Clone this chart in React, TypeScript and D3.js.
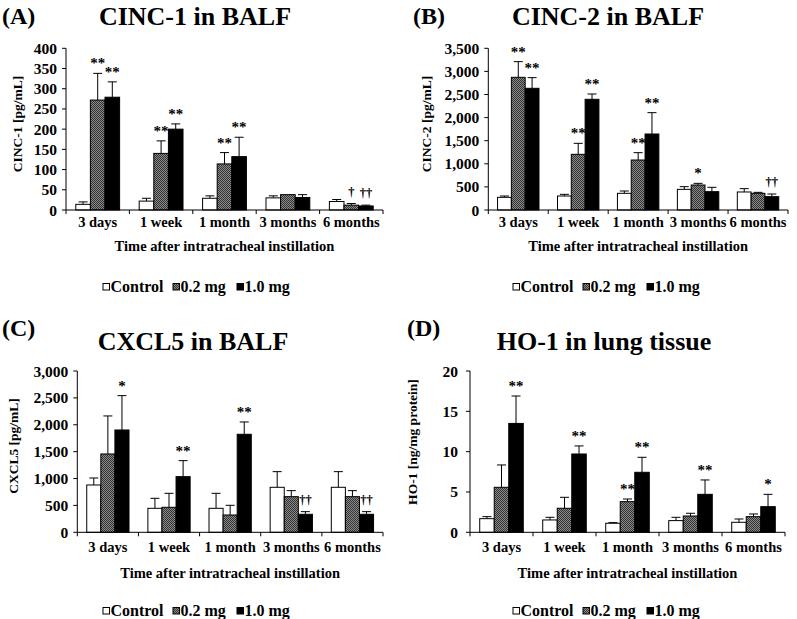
import React from "react";
import * as d3 from "d3";

const categories = ["3 days", "1 week", "1 month", "3 months", "6 months"];
const seriesNames = ["Control", "0.2 mg", "1.0 mg"];

// (A) CINC-1 in BALF [pg/mL]
const cinc1Control = [14, 22, 29, 30, 21];
const cinc1ControlSd = [6, 7, 6, 5, 5];
const cinc1Low = [272, 140, 114, 38, 12];
const cinc1LowSd = [66, 31, 28, 0, 4];
const cinc1High = [279, 200, 132, 31, 10];
const cinc1HighSd = [38, 13, 48, 7, 2];
const cinc1Marks = [
  [0, 1, "**"], [0, 2, "**"], [1, 1, "**"], [1, 2, "**"],
  [2, 1, "**"], [2, 2, "**"], [4, 1, "†"], [4, 2, "††"],
];

// (B) CINC-2 in BALF [pg/mL]
const cinc2Control = [274, 303, 361, 447, 390];
const cinc2ControlSd = [29, 36, 50, 58, 72];
const cinc2Low = [2872, 1205, 1082, 541, 361];
const cinc2LowSd = [339, 238, 159, 36, 21];
const cinc2High = [2634, 2396, 1645, 397, 289];
const cinc2HighSd = [231, 115, 462, 94, 57];
const cinc2Marks = [
  [0, 1, "**"], [0, 2, "**"], [1, 1, "**"], [1, 2, "**"],
  [2, 1, "**"], [2, 2, "**"], [3, 1, "*"], [4, 2, "††"],
];

// (C) CXCL5 in BALF [pg/mL]
const cxcl5Control = [880, 446, 446, 837, 837];
const cxcl5ControlSd = [130, 186, 279, 291, 291];
const cxcl5Low = [1457, 465, 322, 663, 663];
const cxcl5LowSd = [707, 260, 180, 112, 112];
const cxcl5High = [1903, 1035, 1823, 335, 335];
const cxcl5HighSd = [639, 298, 229, 49, 49];
const cxcl5Marks = [
  [0, 2, "*"], [1, 2, "**"], [2, 2, "**"], [3, 2, "††"], [4, 2, "††"],
];

// (D) HO-1 in lung tissue [ng/mg protein]
const ho1Control = [1.69, 1.53, 1.12, 1.45, 1.24];
const ho1ControlSd = [0.25, 0.33, 0.08, 0.41, 0.41];
const ho1Low = [5.58, 2.98, 3.8, 2.02, 1.94];
const ho1LowSd = [2.77, 1.36, 0.33, 0.34, 0.33];
const ho1High = [13.5, 9.71, 7.44, 4.71, 3.18];
const ho1HighSd = [3.4, 1.0, 1.86, 1.78, 1.53];
const ho1Marks = [
  [0, 2, "**"], [1, 2, "**"], [2, 1, "**"], [2, 2, "**"], [3, 2, "**"], [4, 2, "*"],
];

const xAxisTitle = "Time after intratracheal instillation";

const FONT = "'Liberation Serif', 'Times New Roman', serif";

type PanelCfg = {
  tag: string;
  title: string;
  yLabel: string;
  means: number[][];
  sds: number[][];
  marks: (number | string)[][];
  yMax: number;
  yStep: number;
  left: number;
  right: number;
  top: number;
  bottom: number;
  tagX: number;
  tagY: number;
  titleX: number;
  titleY: number;
  yLabelX: number;
  yLabelY: number;
  tickY: number;
  axisTitleY: number;
  legendX: number;
  legendY: number;
  yTickGap: number;
};

const panels: PanelCfg[] = [
  {
    tag: "(A)", title: "CINC-1 in BALF", yLabel: "CINC-1 [pg/mL]",
    means: [cinc1Control, cinc1Low, cinc1High], sds: [cinc1ControlSd, cinc1LowSd, cinc1HighSd],
    marks: cinc1Marks, yMax: 400, yStep: 50,
    left: 66, right: 383, top: 48.3, bottom: 210,
    tagX: 2, tagY: 23.5, titleX: 195, titleY: 25, yLabelX: 17, yLabelY: 124,
    tickY: 227, axisTitleY: 251, legendX: 103, legendY: 292, yTickGap: 9,
  },
  {
    tag: "(B)", title: "CINC-2 in BALF", yLabel: "CINC-2 [pg/mL]",
    means: [cinc2Control, cinc2Low, cinc2High], sds: [cinc2ControlSd, cinc2LowSd, cinc2HighSd],
    marks: cinc2Marks, yMax: 3500, yStep: 500,
    left: 488.3, right: 788, top: 48.3, bottom: 210,
    tagX: 413, tagY: 23.5, titleX: 608, titleY: 25, yLabelX: 426, yLabelY: 124,
    tickY: 227, axisTitleY: 251, legendX: 513, legendY: 292, yTickGap: 9,
  },
  {
    tag: "(C)", title: "CXCL5 in BALF", yLabel: "CXCL5 [pg/mL]",
    means: [cxcl5Control, cxcl5Low, cxcl5High], sds: [cxcl5ControlSd, cxcl5LowSd, cxcl5HighSd],
    marks: cxcl5Marks, yMax: 3000, yStep: 500,
    left: 77.3, right: 383, top: 371, bottom: 532.3,
    tagX: 2, tagY: 336, titleX: 193, titleY: 350, yLabelX: 13, yLabelY: 446,
    tickY: 552, axisTitleY: 578, legendX: 103, legendY: 616, yTickGap: 9,
  },
  {
    tag: "(D)", title: "HO-1 in lung tissue", yLabel: "HO-1 [ng/mg protein]",
    means: [ho1Control, ho1Low, ho1High], sds: [ho1ControlSd, ho1LowSd, ho1HighSd],
    marks: ho1Marks, yMax: 20, yStep: 5,
    left: 470, right: 785, top: 371, bottom: 532.3,
    tagX: 407, tagY: 336, titleX: 604, titleY: 350, yLabelX: 412, yLabelY: 442,
    tickY: 552, axisTitleY: 578, legendX: 513, legendY: 616, yTickGap: 12,
  },
];

const fills = ["#ffffff", "url(#hatchPat)", "#000000"];
const legendOffsets = [0, 70, 134];

function Panel({ p }: { p: PanelCfg }) {
  const x0 = d3.scaleBand<string>().domain(categories).range([p.left, p.right]).paddingInner(0).paddingOuter(0);
  const x1 = d3.scaleBand<string>().domain(seriesNames).range([0, x0.bandwidth()]).paddingInner(0).paddingOuter(0.67);
  const y = d3.scaleLinear().domain([0, p.yMax]).range([p.bottom, p.top]);
  const ticks = d3.range(0, p.yMax + p.yStep / 2, p.yStep);
  const fmt = d3.format(",");
  const bw = x1.bandwidth();
  const bounds = [...categories.map((c) => x0(c) as number), p.right];

  return (
    <g fill="#000">
      <text x={p.tagX} y={p.tagY} fontSize={24} fontWeight="bold" fontFamily={FONT}>{p.tag}</text>
      <text x={p.titleX} y={p.titleY} fontSize={26} fontWeight="bold" fontFamily={FONT} textAnchor="middle">{p.title}</text>
      <text
        transform={`translate(${p.yLabelX},${p.yLabelY}) rotate(-90)`}
        fontSize={13.5} fontWeight="bold" fontFamily={FONT} textAnchor="middle" dominantBaseline="central"
      >{p.yLabel}</text>

      {/* bars */}
      {categories.map((c, ci) =>
        seriesNames.map((s, si) => {
          const v = p.means[si][ci];
          const sd = p.sds[si][ci];
          const bx = (x0(c) as number) + (x1(s) as number);
          const cx = bx + bw / 2;
          return (
            <g key={c + s}>
              {sd > 0 && (
                <g stroke="#000" strokeWidth={1}>
                  <line x1={cx} x2={cx} y1={y(v)} y2={y(v + sd)} />
                  <line x1={cx - 4.5} x2={cx + 4.5} y1={y(v + sd)} y2={y(v + sd)} />
                </g>
              )}
              <rect x={bx} y={y(v)} width={bw} height={y(0) - y(v)} fill={fills[si]} stroke="#000" strokeWidth={1} />
            </g>
          );
        })
      )}

      {/* significance marks */}
      {p.marks.map((m, i) => {
        const ci = m[0] as number;
        const si = m[1] as number;
        const label = m[2] as string;
        const v = p.means[si][ci] + p.sds[si][ci];
        const cx = (x0(categories[ci]) as number) + (x1(seriesNames[si]) as number) + bw / 2;
        const isDagger = label.includes("†");
        return (
          <text key={i} x={cx} y={y(v) - (isDagger ? 8 : 5)} fontSize={isDagger ? 12.5 : 15} fontWeight="bold"
            fontFamily={FONT} textAnchor="middle" fill="#000">{label}</text>
        );
      })}

      {/* y axis */}
      <line x1={p.left} x2={p.left} y1={p.top} y2={p.bottom} stroke="#000" strokeWidth={1} />
      {ticks.map((t) => (
        <g key={t}>
          <line x1={p.left - 4} x2={p.left} y1={y(t)} y2={y(t)} stroke="#000" strokeWidth={1} />
          <text x={p.left - p.yTickGap} y={y(t)} fontSize={15.5} fontWeight="bold" fontFamily={FONT}
            textAnchor="end" dominantBaseline="central">{fmt(t)}</text>
        </g>
      ))}

      {/* x axis */}
      <line x1={p.left} x2={p.right} y1={p.bottom} y2={p.bottom} stroke="#000" strokeWidth={1} />
      {bounds.map((bx, i) => (
        <line key={i} x1={bx} x2={bx} y1={p.bottom} y2={p.bottom + 4} stroke="#000" strokeWidth={1} />
      ))}
      {categories.map((c) => (
        <text key={c} x={(x0(c) as number) + x0.bandwidth() / 2} y={p.tickY} fontSize={14.5} fontWeight="bold"
          fontFamily={FONT} textAnchor="middle">{c}</text>
      ))}
      <text x={(p.left + p.right) / 2} y={p.axisTitleY} fontSize={14.5} fontWeight="bold" fontFamily={FONT}
        textAnchor="middle">{xAxisTitle}</text>

      {/* legend */}
      {seriesNames.map((s, si) => (
        <g key={s}>
          <rect x={p.legendX + legendOffsets[si]} y={p.legendY - 8.5} width={6.5} height={6.5}
            fill={fills[si]} stroke="#000" strokeWidth={1} />
          <text x={p.legendX + legendOffsets[si] + 7.5} y={p.legendY} fontSize={16} fontWeight="bold"
            fontFamily={FONT}>{s}</text>
        </g>
      ))}
    </g>
  );
}

export default function App() {
  return (
    <svg width={797} height={619} style={{ position: "absolute", left: 0, top: 0, background: "#fff", opacity: 0.999 }}>
      <defs>
        <pattern id="hatchPat" patternUnits="userSpaceOnUse" width={2} height={2}>
          <rect x={0} y={0} width={2} height={2} fill="#8a8a8a" />
          <rect x={0} y={0} width={1} height={1} fill="#333333" />
          <rect x={1} y={1} width={1} height={1} fill="#333333" />
        </pattern>
      </defs>
      <rect x={0} y={0} width={797} height={619} fill="#fff" />
      {panels.map((p) => (
        <Panel key={p.tag} p={p} />
      ))}
    </svg>
  );
}
